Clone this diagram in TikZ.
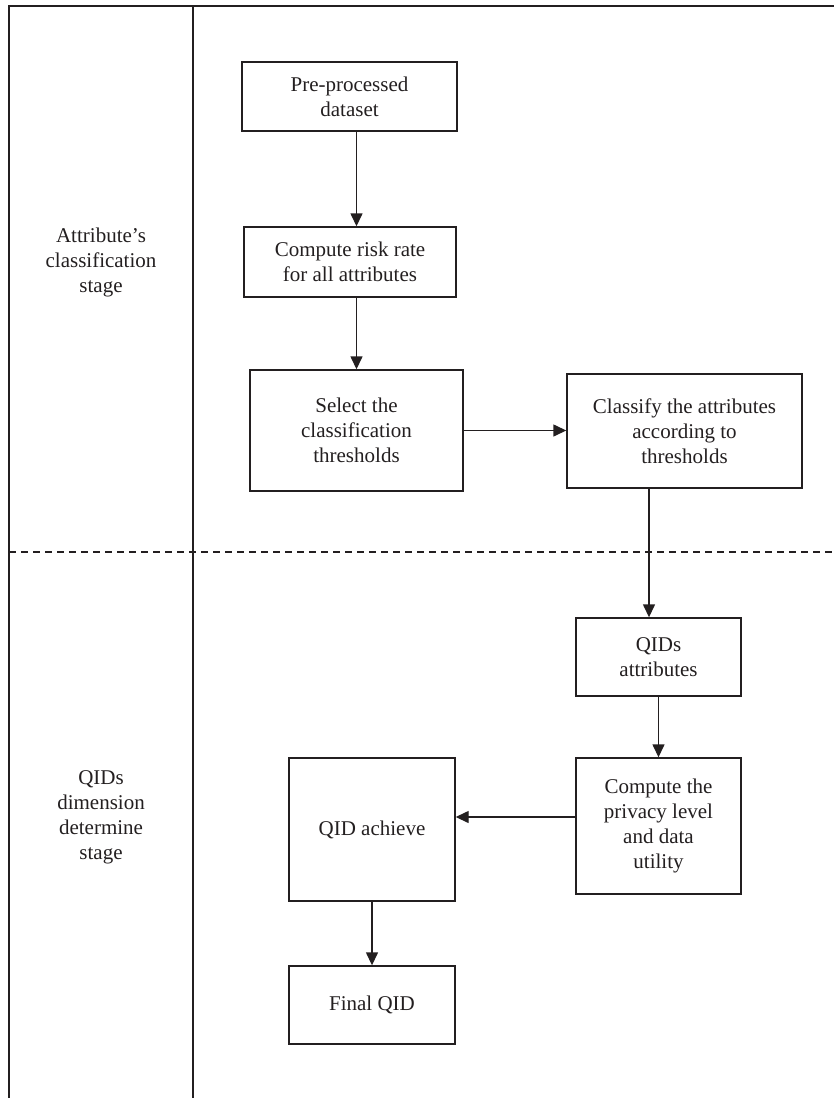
\documentclass[tikz,border=0pt]{standalone}
\usepackage{fontspec}
\setmainfont{Liberation Serif}
\usetikzlibrary{arrows.meta,calc}
\definecolor{ink}{HTML}{231F20}
\begin{document}
\begin{tikzpicture}[x=1pt,y=-1pt,
  every node/.style={font=\fontsize{21}{25}\selectfont, text=ink},
  box/.style={draw=ink, line width=1.4pt, align=center, inner sep=0pt},
  arr/.style={draw=ink, line width=1.4pt, -{Triangle[length=13pt,width=12pt]}},
  frame/.style={draw=ink, line width=1.4pt},
  lbl/.style={align=center}]
\useasboundingbox (0,0) rectangle (834,1098);
% frame
\coordinate (tl) at (9,6);
\coordinate (tr) at (834,6);
\coordinate (bl) at (9,1098);
\coordinate (sept) at (193,6);
\coordinate (sepb) at (193,1098);
\coordinate (dl) at (9,552);
\coordinate (dr) at (834,552);
\draw[frame] (tr) -- (tl) -- (bl);
\draw[frame] (sept) -- (sepb);
\draw[frame, line width=1.2pt, dash pattern=on 7pt off 5pt] (dl) -- (dr);
% stage labels
\node[lbl] (s1) at (101,262) {Attribute’s\\classification\\stage};
\node[lbl] (s2) at (101,817) {QIDs\\dimension\\determine\\stage};
% boxes
\node[box, minimum width=215pt, minimum height=69pt] (pre) at (349.5,96.5) {Pre-processed\\dataset};
\node[box, minimum width=212pt, minimum height=70pt] (risk) at (350,262) {Compute risk rate\\for all attributes};
\node[box, minimum width=213pt, minimum height=121pt] (sel) at (356.5,430.5) {Select the\\classification\\thresholds};
\node[box, minimum width=235pt, minimum height=114pt] (cls) at (684.5,431) {Classify the attributes\\according to\\thresholds};
\node[box, minimum width=165pt, minimum height=78pt] (qids) at (658.5,657) {QIDs\\attributes};
\node[box, minimum width=165pt, minimum height=136pt] (priv) at (658.5,826) {Compute the\\privacy level\\and data\\utility};
\node[box, minimum width=166pt, minimum height=143pt] (ach) at (372,829.5) {QID achieve};
\node[box, minimum width=166pt, minimum height=78pt] (fin) at (372,1005) {Final QID};
% connectors
\draw[arr] (pre.south -| sel.north) -- (risk.north -| sel.north);
\draw[arr] (risk.south -| sel.north) -- (sel.north);
\draw[arr] (sel.east) -- (sel.east -| cls.west);
\draw[arr] ([xshift=-9.5pt]qids.north |- cls.south) -- ([xshift=-9.5pt]qids.north);
\draw[arr] (qids.south) -- (priv.north);
\draw[arr] ([yshift=9pt]priv.west) -- ([yshift=9pt]priv.west -| ach.east);
\draw[arr] (ach.south -| fin.north) -- (fin.north);
\end{tikzpicture}
\end{document}
